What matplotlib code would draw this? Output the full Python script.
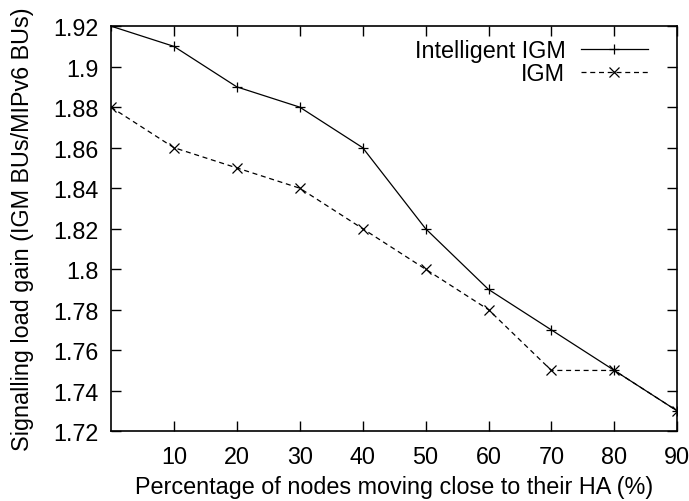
import matplotlib
matplotlib.use("Agg")
import matplotlib.pyplot as plt

# percentage of nodes moving close to their HA
percent = [0, 10, 20, 30, 40, 50, 60, 70, 80, 90]
intelligent_igm = [1.92, 1.91, 1.89, 1.88, 1.86, 1.82, 1.79, 1.77, 1.75, 1.73]
igm = [1.88, 1.86, 1.85, 1.84, 1.82, 1.80, 1.78, 1.75, 1.75, 1.73]

x_ticks = [10, 20, 30, 40, 50, 60, 70, 80, 90]
y_ticks = [1.72, 1.74, 1.76, 1.78, 1.80, 1.82, 1.84, 1.86, 1.88, 1.90, 1.92]

plt.rcParams['font.family'] = ['Liberation Sans', 'DejaVu Sans']
plt.rcParams['font.size'] = 16.8

fig = plt.figure(figsize=(6.89, 5.02), dpi=100)
ax = fig.add_axes([0.161, 0.139, 0.822, 0.807])

ax.plot(percent, intelligent_igm, color='black', linewidth=0.9,
        marker='+', markersize=7.5, markeredgewidth=0.9, label='Intelligent IGM')
ax.plot(percent, igm, color='black', linewidth=0.9, linestyle=(0, (4, 3)),
        marker='x', markersize=7, markeredgewidth=0.9, label='IGM')

ax.set_xlim(0, 90)
ax.set_ylim(1.72, 1.92)
ax.set_xticks(x_ticks)
ax.set_yticks(y_ticks)
ax.set_yticklabels(['%g' % v for v in y_ticks])
ax.tick_params(direction='in', length=7, width=1, top=True, right=True)
ax.tick_params(axis='y', pad=9)
ax.tick_params(axis='x', pad=10)
for spine in ax.spines.values():
    spine.set_linewidth(1.2)

ax.set_xlabel('Percentage of nodes moving close to their HA (%)', labelpad=5)
ax.set_ylabel('Signalling load gain (IGM BUs/MIPv6 BUs)', labelpad=14)

ax.legend(loc='upper right', bbox_to_anchor=(0.961, 0.985), frameon=False,
          markerfirst=False, handlelength=2.9, handletextpad=0.65,
          labelspacing=0.0, borderaxespad=0, borderpad=0.3)

fig.savefig('out.png', dpi=100)
